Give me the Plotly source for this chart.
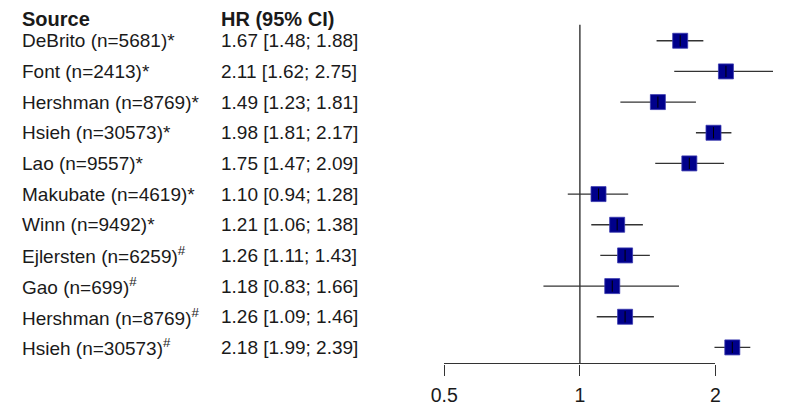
import math
import plotly.graph_objects as go

# ---------------- data ----------------
studies = ["DeBrito (n=5681)*", "Font (n=2413)*", "Hershman (n=8769)*", "Hsieh (n=30573)*",
           "Lao (n=9557)*", "Makubate (n=4619)*", "Winn (n=9492)*",
           "Ejlersten (n=6259)<sup>#</sup>", "Gao (n=699)<sup>#</sup>",
           "Hershman (n=8769)<sup>#</sup>", "Hsieh (n=30573)<sup>#</sup>"]
hr = [1.67, 2.11, 1.49, 1.98, 1.75, 1.10, 1.21, 1.26, 1.18, 1.26, 2.18]
lower = [1.48, 1.62, 1.23, 1.81, 1.47, 0.94, 1.06, 1.11, 0.83, 1.09, 1.99]
upper = [1.88, 2.75, 1.81, 2.17, 2.09, 1.28, 1.38, 1.43, 1.66, 1.46, 2.39]
tick_vals = [0.5, 1, 2]
tick_text = ["0.5", "1", "2"]
header_source = "Source"
header_hr = "HR (95% CI)"

# ---------------- geometry (page px -> figure px) ----------------
OFF = 8                   # default page body margin
W, H = 786 - 2 * OFF, 414 - 2 * OFF
FONT = "Liberation Sans, Arial, sans-serif"
TXT = "#1a1a1a"
LINE = "#333333"
px_one = 580.0 - OFF
px_per_log10 = 139.0 / math.log10(2)
row0_px, row_step = 41.0 - OFF, 30.9
axis_px = 366.0 - OFF

x_range = [(0 - px_one) / px_per_log10, (W - px_one) / px_per_log10]
y_range = [(H - row0_px) / row_step, (0 - row0_px) / row_step]
rows = list(range(len(studies)))

fig = go.Figure()

# confidence intervals
cx, cy = [], []
for i, (lo, hi) in enumerate(zip(lower, upper)):
    cx += [lo, hi, None]
    cy += [i, i, None]
fig.add_trace(go.Scatter(x=cx, y=cy, mode="lines", line=dict(color=LINE, width=1.4),
                         hoverinfo="skip", showlegend=False))
# point estimates
fig.add_trace(go.Scatter(x=hr, y=rows, mode="markers",
                         marker=dict(symbol="square", size=15, color="#00008B",
                                     line=dict(color="#3a3ab0", width=0.8)),
                         showlegend=False))
fig.add_trace(go.Scatter(x=hr, y=rows, mode="markers",
                         marker=dict(symbol="line-ns", size=8,
                                     line=dict(color="#000000", width=1)),
                         hoverinfo="skip", showlegend=False))
# holder trace for the visible HR axis
fig.add_trace(go.Scatter(x=[1], y=[0], xaxis="x2", yaxis="y2", mode="markers",
                         marker=dict(opacity=0), hoverinfo="skip", showlegend=False))

# no-effect line at HR = 1
axis_row = (axis_px - row0_px) / row_step
top_row = (25 - OFF - row0_px) / row_step
fig.add_shape(type="line", xref="x", yref="y", x0=1, x1=1, y0=top_row, y1=axis_row,
              line=dict(color=LINE, width=1.4))

# text columns
col1_x = 0
col2_x = (212 - OFF) / W
for i, (s, h, lo, hi) in enumerate(zip(studies, hr, lower, upper)):
    fig.add_annotation(x=col1_x, xref="paper", y=i, yref="y", text=s, showarrow=False,
                       xanchor="left", yanchor="middle", borderpad=0, borderwidth=0,
                       font=dict(family=FONT, size=19, color=TXT))
    fig.add_annotation(x=col2_x, xref="paper", y=i, yref="y",
                       text=f"{h:.2f} [{lo:.2f}; {hi:.2f}]", showarrow=False,
                       xanchor="left", yanchor="middle", borderpad=0, borderwidth=0,
                       font=dict(family=FONT, size=19, color=TXT))
for xx, t in [(col1_x, header_source), (col2_x, header_hr)]:
    fig.add_annotation(x=xx, xref="paper", y=1, yref="paper", text=f"<b>{t}</b>",
                       showarrow=False, xanchor="left", yanchor="top",
                       borderpad=0, borderwidth=0,
                       font=dict(family=FONT, size=20, color=TXT))

lo_px = px_one + math.log10(tick_vals[0]) * px_per_log10
hi_px = px_one + math.log10(tick_vals[-1]) * px_per_log10
ax_paper = 1 - axis_px / H

fig.update_layout(
    width=W, height=H, margin=dict(l=0, r=0, t=0, b=0),
    paper_bgcolor="white", plot_bgcolor="rgba(0,0,0,0)",
    xaxis=dict(type="log", range=x_range, visible=False, domain=[0, 1]),
    yaxis=dict(range=y_range, visible=False, domain=[0, 1]),
    xaxis2=dict(type="log", range=[math.log10(tick_vals[0]), math.log10(tick_vals[-1])],
                domain=[lo_px / W, hi_px / W], anchor="y2",
                showline=True, linecolor=LINE, linewidth=1.4,
                ticks="outside", ticklen=11, tickwidth=1.4, tickcolor=LINE,
                tickvals=tick_vals, ticktext=tick_text, showgrid=False, zeroline=False,
                tickfont=dict(family=FONT, size=19.5, color=TXT), ticklabelstandoff=3),
    yaxis2=dict(domain=[ax_paper, ax_paper + 0.01], visible=False, range=[0, 1]),
    showlegend=False,
)

fig.write_html("out.html")
